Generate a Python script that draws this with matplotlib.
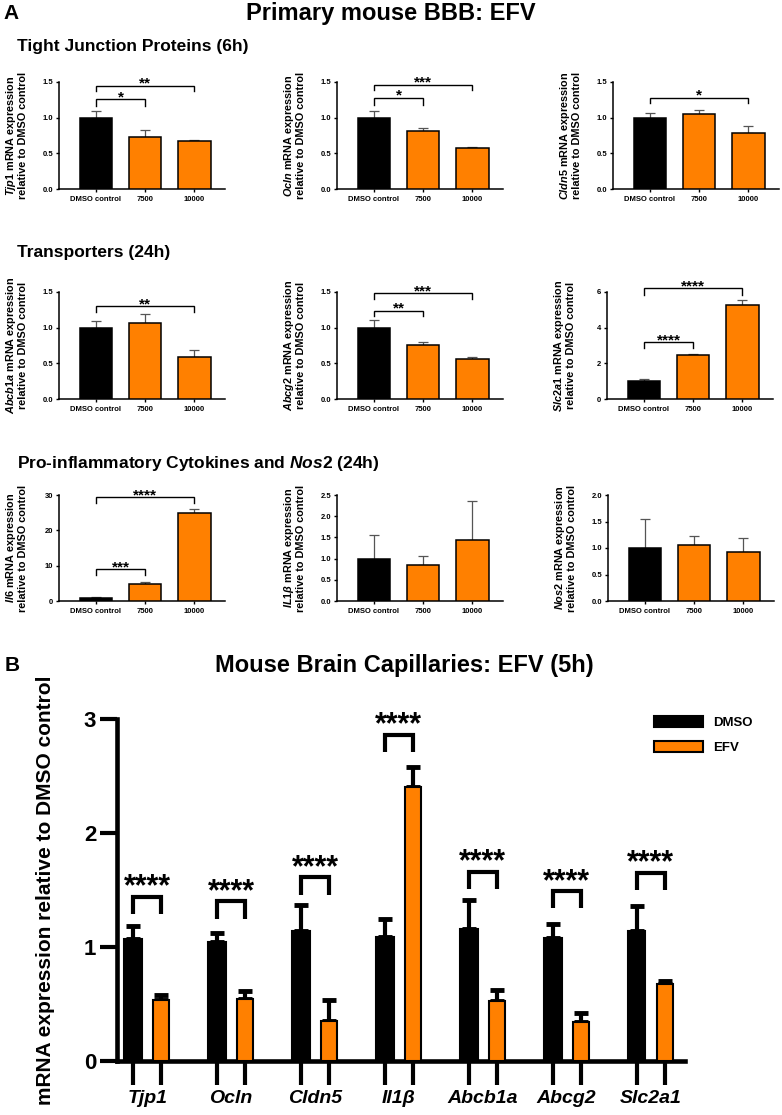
import matplotlib.pyplot as plt
import numpy as np

plt.rcParams['font.family'] = ['Liberation Sans', 'DejaVu Sans']
plt.rcParams['font.weight'] = 'bold'
plt.rcParams['mathtext.fontset'] = 'custom'
plt.rcParams['mathtext.it'] = 'Liberation Sans:italic:bold'
plt.rcParams['mathtext.rm'] = 'Liberation Sans:bold'
plt.rcParams['mathtext.bf'] = 'Liberation Sans:bold'

ORANGE = '#FF8000'

# Panel A - primary mouse BBB, EFV doses
conditions = ['DMSO control', '7500', '10000']

tjp1_mean = [1.0, 0.73, 0.67]
tjp1_err = [0.10, 0.10, 0.02]
ocln_mean = [1.0, 0.81, 0.57]
ocln_err = [0.10, 0.045, 0.02]
cldn5_mean = [1.0, 1.05, 0.79]
cldn5_err = [0.065, 0.055, 0.09]

abcb1a_mean = [1.0, 1.07, 0.59]
abcb1a_err = [0.09, 0.12, 0.09]
abcg2_mean = [1.0, 0.755, 0.566]
abcg2_err = [0.11, 0.05, 0.02]
slc2a1_mean = [1.0, 2.44, 5.29]
slc2a1_err = [0.10, 0.06, 0.24]

il6_mean = [0.9, 4.8, 25.0]
il6_err = [0.2, 0.6, 1.0]
il1b_mean = [1.0, 0.85, 1.45]
il1b_err = [0.55, 0.20, 0.92]
nos2_mean = [1.0, 1.05, 0.92]
nos2_err = [0.555, 0.185, 0.265]

# significance brackets: (from, to, label)
tjp1_sig = [(0, 1, '*'), (0, 2, '**')]
ocln_sig = [(0, 1, '*'), (0, 2, '***')]
cldn5_sig = [(0, 2, '*')]
abcb1a_sig = [(0, 2, '**')]
abcg2_sig = [(0, 1, '**'), (0, 2, '***')]
slc2a1_sig = [(0, 1, '****'), (0, 2, '****')]
il6_sig = [(0, 1, '***'), (0, 2, '****')]
nos2_sig = []
il1b_sig = []

# Panel B - mouse brain capillaries
genes = ['Tjp1', 'Ocln', 'Cldn5', 'Il1β', 'Abcb1a', 'Abcg2', 'Slc2a1']
dmso_mean = [1.07, 1.04, 1.14, 1.09, 1.16, 1.08, 1.14]
dmso_err = [0.11, 0.08, 0.23, 0.16, 0.25, 0.12, 0.22]
efv_mean = [0.535, 0.54, 0.35, 2.40, 0.53, 0.34, 0.675]
efv_err = [0.045, 0.07, 0.185, 0.18, 0.09, 0.08, 0.03]
groups = ['DMSO', 'EFV']

W, H = 782, 1115
fig = plt.figure(figsize=(W / 100, H / 100), dpi=100)


def px_axes(left, top, right, bottom):
    return fig.add_axes([left / W, 1 - bottom / H, (right - left) / W, (bottom - top) / H])


def small_panel(left, top, bottom, means, errs, ymax, ystep, fmt, gene, sigs, bh):
    ax = px_axes(left, top, left + 166, bottom)
    x = np.arange(len(conditions))
    ax.bar(x, means, width=0.66, color=['black', ORANGE, ORANGE],
           edgecolor='black', linewidth=1.1, zorder=3)
    ax.errorbar(x, means, yerr=[np.zeros(len(x)), errs], fmt='none',
                ecolor='#555555', elinewidth=0.9, capsize=3.5, capthick=0.9, zorder=2)
    ax.set_xlim(-0.75, 2.62)
    ax.set_ylim(0, ymax)
    yt = np.arange(0, ymax + 1e-9, ystep)
    ax.set_yticks(yt)
    ax.set_yticklabels([fmt.format(v) for v in yt])
    ax.set_xticks(x)
    ax.set_xticklabels(conditions)
    for s in ['top', 'right']:
        ax.spines[s].set_visible(False)
    for s in ['left', 'bottom']:
        ax.spines[s].set_linewidth(1.1)
    ax.tick_params(axis='both', length=2.5, width=1.0, labelsize=5.5)
    ax.tick_params(axis='y', pad=1.5)
    ax.tick_params(axis='x', pad=2.5)
    ax.set_ylabel(gene + ' mRNA expression\nrelative to DMSO control',
                  fontsize=7.8, fontweight='bold', linespacing=1.05, multialignment='center')
    ax.yaxis.set_label_coords(-31 / 166, 0.5)
    for (i, j, lab), (top_v, leg_v) in zip(sigs, bh):
        ax.plot([i, i, j, j], [leg_v, top_v, top_v, leg_v], color='black', lw=1.0,
                clip_on=False, solid_joinstyle='miter')
        ax.annotate(lab, xy=((i + j) / 2, top_v), xytext=(0, -1.5), textcoords='offset points',
                    ha='center', va='baseline', fontsize=11, fontweight='bold',
                    annotation_clip=False)
    return ax


# bracket heights (top, leg end) in data units
small_panel(59, 82, 189, tjp1_mean, tjp1_err, 1.5, 0.5, '{:.1f}', r'$\mathit{Tjp1}$',
            tjp1_sig, [(1.26, 1.17), (1.45, 1.38)])
small_panel(337, 82, 189, ocln_mean, ocln_err, 1.5, 0.5, '{:.1f}', r'$\mathit{Ocln}$',
            ocln_sig, [(1.28, 1.18), (1.46, 1.39)])
small_panel(613, 82, 189, cldn5_mean, cldn5_err, 1.5, 0.5, '{:.1f}', r'$\mathit{Cldn5}$',
            cldn5_sig, [(1.28, 1.20)])

small_panel(59, 292, 399, abcb1a_mean, abcb1a_err, 1.5, 0.5, '{:.1f}', r'$\mathit{Abcb1a}$',
            abcb1a_sig, [(1.30, 1.22)])
small_panel(337, 292, 399, abcg2_mean, abcg2_err, 1.5, 0.5, '{:.1f}', r'$\mathit{Abcg2}$',
            abcg2_sig, [(1.24, 1.17), (1.48, 1.40)])
small_panel(607, 292, 399, slc2a1_mean, slc2a1_err, 6, 2, '{:.0f}', r'$\mathit{Slc2a1}$',
            slc2a1_sig, [(3.19, 2.85), (6.22, 5.85)])

small_panel(59, 495, 601, il6_mean, il6_err, 30, 10, '{:.0f}', r'$\mathit{Il6}$',
            il6_sig, [(9.0, 7.3), (29.4, 27.7)])
small_panel(337, 495, 601, il1b_mean, il1b_err, 2.5, 0.5, '{:.1f}', r'$\mathit{IL1β}$',
            il1b_sig, [])
small_panel(608, 495, 601, nos2_mean, nos2_err, 2.0, 0.5, '{:.1f}', r'$\mathit{Nos2}$',
            nos2_sig, [])

# titles
fig.text(3 / W, 1 - 19 / H, 'A', fontsize=15, fontweight='bold', va='baseline')
fig.text(391 / W, 1 - 20 / H, 'Primary mouse BBB: EFV', fontsize=17, fontweight='bold',
         ha='center', va='baseline')
fig.text(17 / W, 1 - 51 / H, 'Tight Junction Proteins (6h)', fontsize=12.5, fontweight='bold',
         va='baseline')
fig.text(17 / W, 1 - 257 / H, 'Transporters (24h)', fontsize=12.5, fontweight='bold',
         va='baseline')
fig.text(17 / W, 1 - 468 / H, r'Pro-inflammatory Cytokines and $\mathit{Nos2}$ (24h)',
         fontsize=12.5, fontweight='bold', va='baseline')
fig.text(5 / W, 1 - 671 / H, 'B', fontsize=15, fontweight='bold', va='baseline')
fig.text(404 / W, 1 - 672 / H, 'Mouse Brain Capillaries: EFV (5h)', fontsize=17,
         fontweight='bold', ha='center', va='baseline')

# Panel B
axb = px_axes(117, 719, 685, 1061)
xg = np.arange(len(genes))
b1 = axb.bar(xg - 1 / 6, dmso_mean, width=0.21, color='black', edgecolor='black',
             linewidth=1.5, zorder=3)
b2 = axb.bar(xg + 1 / 6, efv_mean, width=0.19, color=ORANGE, edgecolor='black',
             linewidth=1.5, zorder=3)
axb.errorbar(xg - 1 / 6, dmso_mean, yerr=[np.zeros(len(xg)), dmso_err], fmt='none',
             ecolor='black', elinewidth=3, capsize=5, capthick=3.5, zorder=2)
axb.errorbar(xg + 1 / 6, efv_mean, yerr=[np.zeros(len(xg)), efv_err], fmt='none',
             ecolor='black', elinewidth=3, capsize=5, capthick=3.5, zorder=2)
axb.set_xlim(-0.36, 6.41)
axb.set_ylim(0, 3)
axb.set_yticks([0, 1, 2, 3])
axb.set_yticklabels(['0', '1', '2', '3'])
for s in ['top', 'right']:
    axb.spines[s].set_visible(False)
for s in ['left', 'bottom']:
    axb.spines[s].set_linewidth(3.3)
axb.tick_params(axis='y', length=12, width=3, labelsize=16, pad=3)
axb.set_xticks(np.concatenate([xg - 1 / 6, xg + 1 / 6]))
axb.set_xticklabels([])
axb.tick_params(axis='x', which='major', length=17, width=3)
axb.set_xticks(xg, minor=True)
axb.set_xticklabels(genes, minor=True, fontsize=14, fontstyle='italic', fontweight='bold')
axb.tick_params(axis='x', which='minor', length=0, pad=21)
axb.set_ylabel('mRNA expression relative to DMSO control', fontsize=15, fontweight='bold')
axb.yaxis.set_label_coords((55 - 117) / 568, 0.5)

# brackets above each gene (top of bracket from picture)
bracket_top = [1.44, 1.40, 1.61, 2.86, 1.66, 1.49, 1.65]
for i, top_v in enumerate(bracket_top):
    axb.plot([i - 1 / 6, i - 1 / 6, i + 1 / 6, i + 1 / 6],
             [top_v - 0.15, top_v, top_v, top_v - 0.15], color='black', lw=3,
             solid_joinstyle='miter', solid_capstyle='butt', clip_on=False)
    axb.annotate('****', xy=(i, top_v), xytext=(0, 1), textcoords='offset points',
                 ha='center', va='baseline', fontsize=22, fontweight='bold',
                 annotation_clip=False)

axb.legend([b1, b2], groups, loc='upper left', bbox_to_anchor=(654 / W, 1 - 716 / H),
           bbox_transform=fig.transFigure, frameon=False, fontsize=9.5,
           handlelength=3.7, handleheight=0.9, labelspacing=0.9, handletextpad=0.75,
           borderpad=0, borderaxespad=0)

fig.savefig('out.png', dpi=100, facecolor='white')
